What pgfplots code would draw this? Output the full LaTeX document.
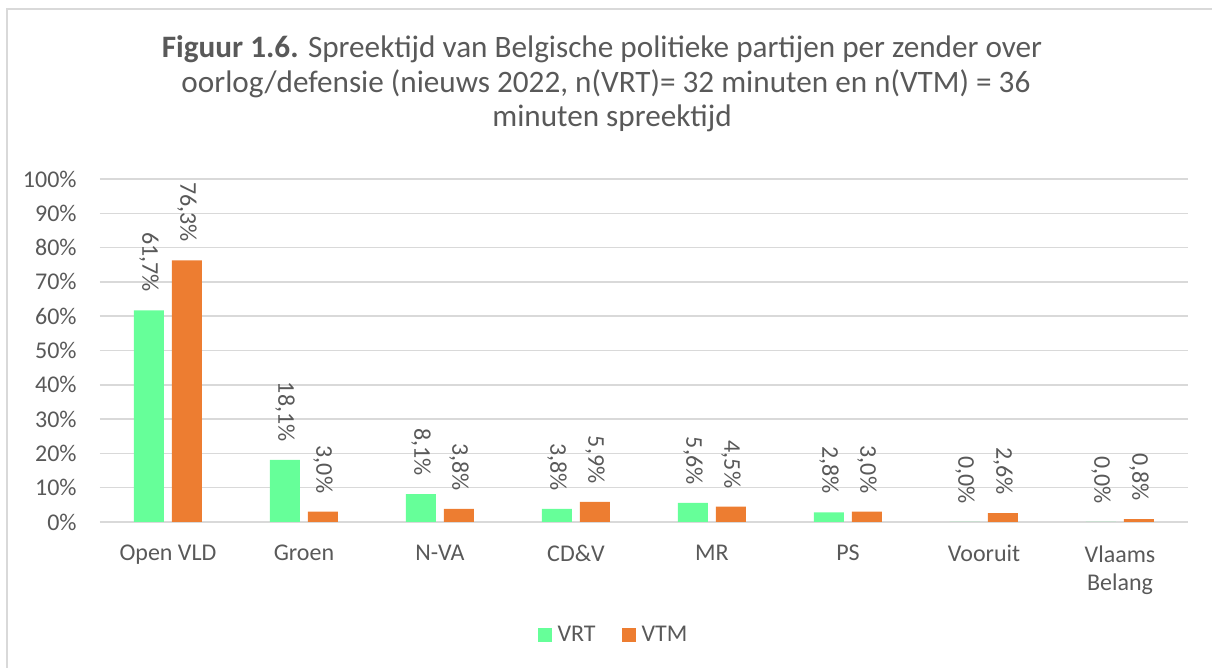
\documentclass[border=0pt]{standalone}
\usepackage{pgfplots}
\pgfplotsset{compat=1.18}
\usepackage{fontspec}
\setmainfont{Carlito}
\definecolor{vrt}{HTML}{66FF99}
\definecolor{vtm}{HTML}{ED7D31}
\definecolor{txt}{HTML}{595959}
\definecolor{grd}{HTML}{D9D9D9}
\begin{document}
\begin{tikzpicture}[x=1pt,y=1pt]
\path[use as bounding box] (0pt,0pt) rectangle (606pt,334pt);
\draw[grd, line width=0.75pt] (3.5pt,-1pt) -- (3.5pt,329.5pt) -- (607pt,329.5pt);
\node[anchor=base, text=txt, font=\fontsize{15.6}{18}\selectfont, inner sep=0pt] at (301pt,305.3pt) {\textbf{Figuur 1.6.} Spreektijd van Belgische politieke partijen per zender over};
\node[anchor=base, text=txt, font=\fontsize{15.6}{18}\selectfont, inner sep=0pt] at (303pt,287.7pt) {oorlog/defensie (nieuws 2022, n(VRT)= 32 minuten en n(VTM) = 36};
\node[anchor=base, text=txt, font=\fontsize{15.6}{18}\selectfont, inner sep=0pt] at (306pt,270.5pt) {minuten spreektijd};
\begin{axis}[
  at={(50pt,73pt)}, anchor=south west,
  scale only axis, width=544pt, height=171.5pt,
  /pgf/number format/assume math mode=true,
  ybar=4pt, bar width=15pt,
  xmin=-0.5, xmax=7.5, ymin=0, ymax=100,
  axis line style={draw=none},
  ymajorgrids, grid style={grd, line width=0.75pt},
  major tick length=0pt,
  xtick={0,1,2,3,4,5,6,7},
  xticklabels={Open VLD,Groen,N-VA,CD\&V,MR,PS,Vooruit,{Vlaams\\Belang}},
  xticklabel style={anchor=north, inner sep=0pt, yshift=-11.5pt, align=center, text=txt, font=\fontsize{12}{14}\selectfont},
  ytick={0,10,20,30,40,50,60,70,80,90,100},
  yticklabels={0\%,10\%,20\%,30\%,40\%,50\%,60\%,70\%,80\%,90\%,100\%},
  yticklabel style={anchor=east, inner sep=0pt, xshift=-11.5pt, text=txt, font=\fontsize{12}{14}\selectfont},
  nodes near coords={\pgfmathprintnumber[fixed,fixed zerofill,precision=1,use comma]{\pgfplotspointmeta}\%},
  every node near coord/.append style={rotate=-90, anchor=east, inner xsep=9pt, inner ysep=0pt, text=txt, font=\fontsize{12}{14}\selectfont},
  legend style={at={(0.4738,-0.3294)}, anchor=center, draw=none, fill=none, legend columns=-1, text=txt, font=\fontsize{12}{14}\selectfont, /tikz/every even column/.append style={column sep=10pt}, inner sep=0pt, nodes={inner xsep=3pt}},
  legend cell align=left,
  clip=false,
]
\addplot[fill=vrt, draw=none, legend image code/.code={\fill[vrt] (0pt,-3.5pt) rectangle (7pt,3.5pt);}] coordinates {(0,61.7) (1,18.1) (2,8.1) (3,3.8) (4,5.6) (5,2.8) (6,0.0) (7,0.0)};
\addplot[fill=vtm, draw=none, legend image code/.code={\fill[vtm] (0pt,-3.5pt) rectangle (7pt,3.5pt);}] coordinates {(0,76.3) (1,3.0) (2,3.8) (3,5.9) (4,4.5) (5,3.0) (6,2.6) (7,0.8)};
\legend{VRT,VTM}
\end{axis}
\end{tikzpicture}
\end{document}
